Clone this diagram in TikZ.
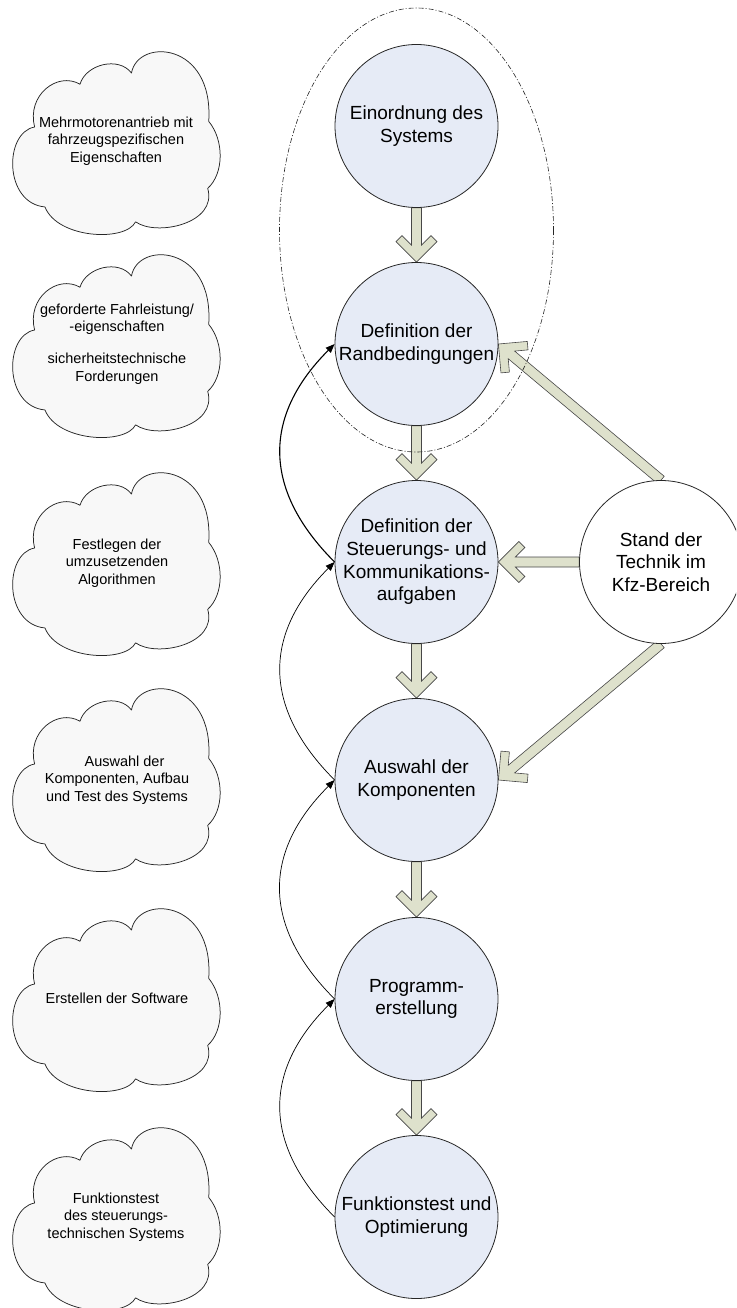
\documentclass[tikz,border=0pt]{standalone}
\usepackage{fontspec}
\setmainfont{Liberation Sans}
\usetikzlibrary{calc,arrows.meta}
\definecolor{circfill}{HTML}{E6EBF6}
\definecolor{arrfill}{HTML}{DEE1CC}
\definecolor{cloudfill}{HTML}{F8F8F8}
\definecolor{edgecol}{HTML}{262626}
\pgfdeclarelayer{arrowlayer}
\pgfsetlayers{arrowlayer,main}
\tikzset{
  proc/.style={circle, draw=edgecol, line width=0.8pt, fill=circfill, minimum size=163pt, inner sep=-14pt, align=center, font=\fontsize{19}{22.7}\selectfont},
  refnode/.style={proc, fill=white},
  cloudline/.style={draw=edgecol, line width=0.75pt, fill=cloudfill, line join=round},
  cloudtext/.style={align=center, inner sep=0pt, font=\fontsize{14.5}{17.4}\selectfont},
  barrowstyle/.style={fill=arrfill, draw=edgecol!85, line width=0.6pt, line join=miter},
  fb/.style={draw=black, line width=0.7pt, -{Triangle[length=9pt,width=7pt]}, bend left=45, looseness=1.2},
  fbthick/.style={fb, line width=1.1pt},
  groupline/.style={draw=black!85, line width=0.6pt, dash pattern=on 5pt off 2pt on 1pt off 2pt}
}
% cloud in a unit box (u to the right, v downwards)
\newcommand\cloudshape[2]{%
\begin{scope}[shift={(#1,#2)}, x={(206pt,0pt)}, y={(0pt,-186pt)}]
\path[cloudline] (0.11,0.43)
 .. controls (0.07,0.26) and (0.22,0.13) .. (0.33,0.20)
 .. controls (0.36,0.09) and (0.52,0.05) .. (0.58,0.14)
 .. controls (0.61,-0.05) and (0.98,-0.03) .. (0.955,0.40)
 .. controls (1.03,0.50) and (1.03,0.68) .. (0.95,0.76)
 .. controls (1.0,0.95) and (0.70,1.02) .. (0.60,0.94)
 .. controls (0.55,1.05) and (0.22,1.03) .. (0.16,0.86)
 .. controls (-0.04,0.84) and (-0.04,0.46) .. (0.11,0.43)
 -- cycle;
\end{scope}}
\newcommand\blockarrow[2]{%
\path[barrowstyle] let \p1=(#1), \p2=(#2),
  \n1={atan2(\y1-\y2,\x1-\x2)}, \n2={veclen(\x1-\x2,\y1-\y2)} in
  (\p2)
  -- ($(\p2)+(\n1:20.5pt)+(\n1+90:20.5pt)$)
  -- ($(\p2)+(\n1:26.5pt)+(\n1+90:14.5pt)$)
  -- ($(\p2)+(\n1:17pt)+(\n1+90:5pt)$)
  -- ($(\p2)+(\n1:\n2)+(\n1+90:5pt)$)
  -- ($(\p2)+(\n1:\n2)+(\n1-90:5pt)$)
  -- ($(\p2)+(\n1:17pt)+(\n1-90:5pt)$)
  -- ($(\p2)+(\n1:26.5pt)+(\n1-90:14.5pt)$)
  -- ($(\p2)+(\n1:20.5pt)+(\n1-90:20.5pt)$)
  -- cycle;}
\begin{document}
\begin{tikzpicture}[x=1pt, y=-1pt]
\useasboundingbox (0,0) rectangle (736,1308);
\clip (0,0) rectangle (736,1308);

% clouds
\cloudshape{12}{47}
\cloudshape{12}{250}
\cloudshape{12}{468}
\cloudshape{12}{684}
\cloudshape{12}{904}
\cloudshape{12}{1123}
\node[cloudtext] (k1) at (116,141) {Mehrmotorenantrieb mit\\fahrzeugspezifischen\\Eigenschaften};
\node[cloudtext] (k2) at (117,344) {geforderte Fahrleistung/\\-eigenschaften\\[15pt]sicherheitstechnische\\Forderungen};
\node[cloudtext] (k3) at (117,563) {Festlegen der\\umzusetzenden\\Algorithmen};
\node[cloudtext] (k4) at (117,780) {\hspace*{15pt}Auswahl der\\Komponenten, Aufbau\\und Test des Systems};
\node[cloudtext] (k5) at (117,998) {Erstellen der Software};
\node[cloudtext] (k6) at (116,1217) {Funktionstest\\des steuerungs-\\technischen Systems};

% process circles
\node[proc] (c1) at (416.5,126) {Einordnung des\\Systems};
\node[proc] (c2) at (416.5,344) {Definition der\\Randbedingungen};
\node[proc] (c3) at (416.5,562) {Definition der\\Steuerungs- und\\Kommunikations-\\aufgaben};
\node[proc] (c4) at (416.5,780) {Auswahl der\\Komponenten};
\node[proc] (c5) at (416.5,999) {Programm-\\erstellung};
\node[proc] (c6) at (416.5,1217) {Funktionstest und\\Optimierung};
\node[refnode] (st) at (661,562) {Stand der\\Technik im\\Kfz-Bereich};

% block arrows (behind circles)
\begin{pgfonlayer}{arrowlayer}
\blockarrow{c1.south}{c2.north}
\blockarrow{c2.south}{c3.north}
\blockarrow{c3.south}{c4.north}
\blockarrow{c4.south}{c5.north}
\blockarrow{c5.south}{c6.north}
\blockarrow{st.north}{c2.east}
\blockarrow{st.west}{c3.east}
\blockarrow{st.south}{c4.east}
\end{pgfonlayer}

% feedback arrows
\draw[fbthick] (c3.west) to (c2.west);
\draw[fb] (c4.west) to (c3.west);
\draw[fb] (c5.west) to (c4.west);
\draw[fb] (c6.west) to (c5.west);

% grouping ellipse
\draw[groupline] (416.5,230) ellipse [x radius=137, y radius=222];
\end{tikzpicture}
\end{document}
